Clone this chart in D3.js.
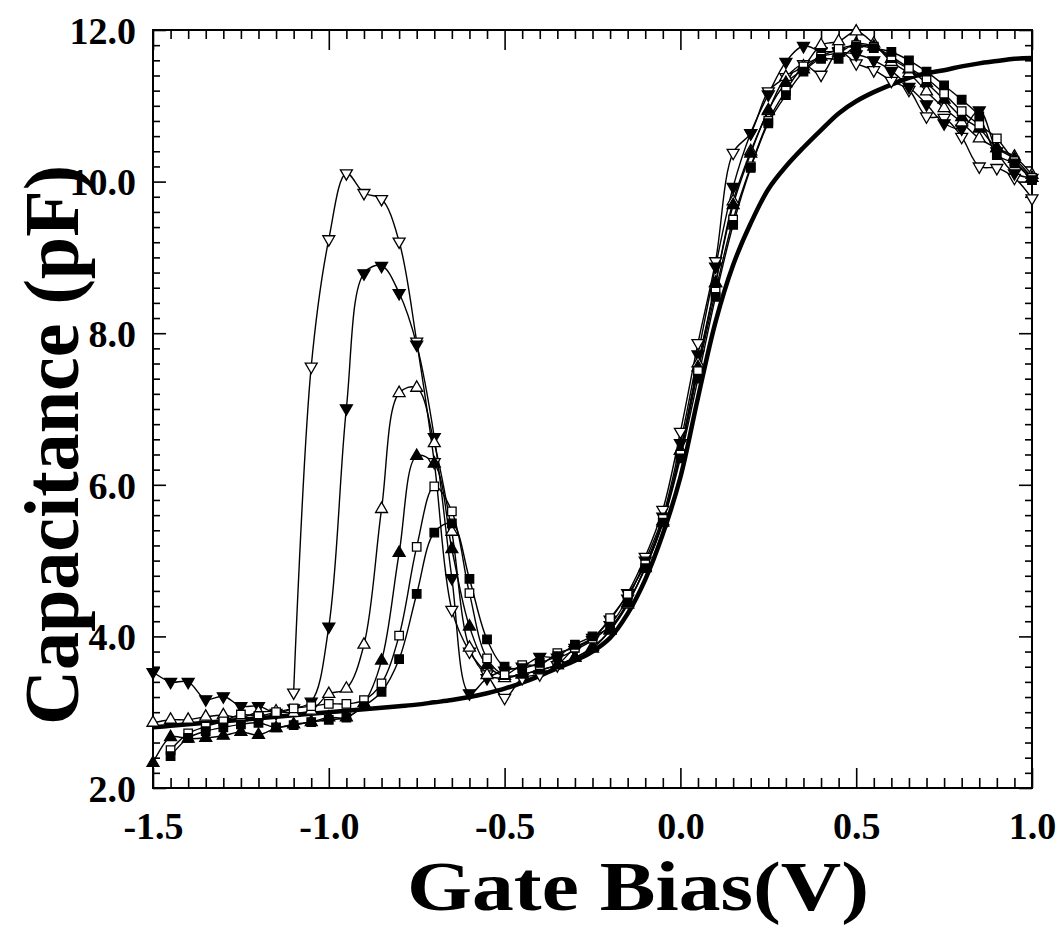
<!DOCTYPE html>
<html>
<head>
<meta charset="utf-8">
<script src="https://cdn.jsdelivr.net/npm/d3@7"></script>
<style>
  html, body { margin: 0; padding: 0; background: #fff; }
  svg { display: block; }
  text { font-family: "Liberation Serif", "Times New Roman", serif; font-weight: bold; fill: #000; }
</style>
</head>
<body>
<svg id="chart" width="1059" height="927"></svg>
<script>
// ---- data ----
const bias = [-1.5, -1.45, -1.4, -1.35, -1.3, -1.25, -1.2, -1.15, -1.1, -1.05,
  -1.0, -0.95, -0.9, -0.85, -0.8, -0.75, -0.7, -0.65, -0.6, -0.55,
  -0.5, -0.45, -0.4, -0.35, -0.3, -0.25, -0.2, -0.15, -0.1, -0.05,
  0.0, 0.05, 0.1, 0.15, 0.2, 0.25, 0.3, 0.35, 0.4, 0.45,
  0.5, 0.55, 0.6, 0.65, 0.7, 0.75, 0.8, 0.85, 0.9, 0.95, 1.0];

const openDown = [null, null, null, null, null, null, null, null, 3.26, 7.56,
  9.24, 10.11, 9.85, 9.77, 9.21, 7.89, 6.30, 4.35, 3.80, 3.50,
  3.19, 3.45, 3.50, 3.62, 3.85, 3.98, 4.22, 4.57, 5.05, 5.67,
  6.70, 7.87, 8.95, 10.38, 10.64, 11.19, 11.38, 11.55, 11.41, 11.72,
  11.56, 11.47, 11.33, 11.21, 10.86, 10.84, 10.59, 10.20, 10.18, 10.05, 9.78];

const filledDown = [3.53, 3.40, 3.40, 3.17, 3.21, 3.08, 3.08, 2.99, 3.05, 3.14,
  4.13, 7.01, 8.79, 8.89, 8.53, 7.85, 6.63, 4.77, 3.25, 3.45,
  3.55, 3.60, 3.73, 3.72, 3.82, 3.95, 4.15, 4.50, 5.00, 5.58,
  6.55, 7.72, 8.88, 9.93, 10.64, 11.15, 11.58, 11.79, 11.72, 11.71,
  11.68, 11.60, 11.46, 11.25, 11.02, 10.77, 10.70, 10.94, 10.40, 10.11, 10.05];

const openUp = [2.86, 2.90, 2.90, 2.94, 2.96, 2.93, 3.00, 3.01, 2.99, 3.02,
  3.24, 3.31, 3.89, 5.68, 7.21, 7.28, 6.55, 5.38, 3.85, 3.49,
  3.45, 3.50, 3.55, 3.62, 3.72, 3.86, 4.08, 4.42, 4.92, 5.52,
  6.45, 7.60, 8.66, 9.74, 10.40, 10.93, 11.38, 11.52, 11.80, 11.85,
  11.98, 11.82, 11.58, 11.43, 11.19, 10.97, 10.78, 10.57, 10.44, 10.33, 10.09];

const filledUp = [2.33, 2.67, 2.65, 2.66, 2.69, 2.74, 2.70, 2.79, 2.84, 2.87,
  2.93, 2.93, 3.12, 3.68, 5.10, 6.38, 6.28, 5.15, 4.13, 3.62,
  3.48, 3.50, 3.56, 3.62, 3.72, 3.84, 4.08, 4.44, 4.90, 5.50,
  6.45, 7.55, 8.66, 9.69, 10.37, 10.94, 11.30, 11.48, 11.65, 11.70,
  11.82, 11.78, 11.62, 11.48, 11.30, 11.08, 10.85, 10.70, 10.44, 10.30, 10.05];

const openSquare = [null, 2.50, 2.72, 2.81, 2.88, 2.97, 2.95, 3.00, 3.05, 3.08,
  3.11, 3.11, 3.16, 3.38, 4.01, 5.18, 5.98, 5.65, 4.57, 3.71,
  3.50, 3.62, 3.62, 3.78, 3.85, 3.97, 4.24, 4.55, 4.95, 5.55,
  6.40, 7.50, 8.55, 9.50, 10.20, 10.80, 11.20, 11.52, 11.65, 11.75,
  11.80, 11.78, 11.65, 11.50, 11.36, 11.16, 10.93, 10.75, 10.57, 10.27, 10.05];

const filledSquare = [null, 2.42, 2.66, 2.75, 2.80, 2.84, 2.86, 2.80, 2.83, 2.87,
  2.90, 2.93, 3.08, 3.27, 3.70, 4.56, 5.37, 5.49, 4.76, 3.96,
  3.60, 3.58, 3.65, 3.74, 3.89, 4.00, 4.12, 4.45, 4.90, 5.50,
  6.35, 7.40, 8.48, 9.43, 10.18, 10.77, 11.14, 11.45, 11.62, 11.62,
  11.78, 11.76, 11.71, 11.60, 11.45, 11.27, 11.08, 10.86, 10.35, 10.24, 10.02];

const reference = [2.80, 2.82, 2.84, 2.86, 2.88, 2.90, 2.92, 2.94, 2.96, 2.98,
  3.00, 3.02, 3.04, 3.06, 3.08, 3.10, 3.13, 3.16, 3.20, 3.25,
  3.31, 3.39, 3.48, 3.58, 3.68, 3.80, 3.98, 4.30, 4.75, 5.35,
  6.10, 7.15, 8.15, 8.90, 9.45, 9.90, 10.20, 10.45, 10.68, 10.90,
  11.06, 11.18, 11.28, 11.37, 11.43, 11.47, 11.52, 11.56, 11.59, 11.62, 11.63];

const xTickLabels = ["-1.5", "-1.0", "-0.5", "0.0", "0.5", "1.0"];
const yTickLabels = ["2.0", "4.0", "6.0", "8.0", "10.0", "12.0"];
const xTitle = "Gate Bias(V)";
const yTitle = "Capacitance (pF)";

// ---- layout ----
const svg = d3.select("#chart");
const L = 153, R = 1032, T = 30, B = 788;
const x = d3.scaleLinear().domain([-1.5, 1.0]).range([L, R]);
const y = d3.scaleLinear().domain([2, 12]).range([B, T]);

const xMajor = xTickLabels.map(Number);
const yMajor = yTickLabels.map(Number);
const xMinor = d3.range(0, 51).map(i => -1.5 + i * 0.05).filter(v => !xMajor.some(m => Math.abs(m - v) < 1e-6));
const yMinor = d3.range(0, 51).map(i => 2 + i * 0.2).filter(v => !yMajor.some(m => Math.abs(m - v) < 1e-6));

function styleAxis(g) {
  g.select(".domain").remove();
  g.selectAll("line").attr("stroke", "#000").attr("stroke-width", 1.6);
}

// minor ticks
svg.append("g").attr("transform", `translate(0,${B})`)
  .call(d3.axisBottom(x).tickValues(xMinor).tickSize(-10).tickFormat("")).call(styleAxis);
svg.append("g").attr("transform", `translate(0,${T})`)
  .call(d3.axisTop(x).tickValues(xMinor).tickSize(-9).tickFormat("")).call(styleAxis);
svg.append("g").attr("transform", `translate(${L},0)`)
  .call(d3.axisLeft(y).tickValues(yMinor).tickSize(-7).tickFormat("")).call(styleAxis);
svg.append("g").attr("transform", `translate(${R},0)`)
  .call(d3.axisRight(y).tickValues(yMinor).tickSize(-7).tickFormat("")).call(styleAxis);

// major ticks
const xAx = svg.append("g").attr("transform", `translate(0,${B})`)
  .call(d3.axisBottom(x).tickValues(xMajor).tickSize(-20)
    .tickFormat((d, i) => xTickLabels[i]));
xAx.call(styleAxis);
xAx.selectAll("text").attr("font-size", 38).attr("font-family", "'Liberation Serif', serif")
  .attr("font-weight", "bold").attr("dy", null).attr("y", 51);

svg.append("g").attr("transform", `translate(0,${T})`)
  .call(d3.axisTop(x).tickValues(xMajor).tickSize(-20).tickFormat("")).call(styleAxis);

const yAx = svg.append("g").attr("transform", `translate(${L},0)`)
  .call(d3.axisLeft(y).tickValues(yMajor).tickSize(-13)
    .tickFormat((d, i) => yTickLabels[i]));
yAx.call(styleAxis);
yAx.selectAll("text").attr("font-size", 38).attr("font-family", "'Liberation Serif', serif")
  .attr("font-weight", "bold").attr("x", -17).attr("dy", "0.35em");

svg.append("g").attr("transform", `translate(${R},0)`)
  .call(d3.axisRight(y).tickValues(yMajor).tickSize(-13).tickFormat("")).call(styleAxis);

// frame
svg.append("rect").attr("x", L).attr("y", T).attr("width", R - L).attr("height", B - T)
  .attr("fill", "none").attr("stroke", "#000").attr("stroke-width", 2);

// titles
svg.append("text").attr("x", 638).attr("y", 910).attr("text-anchor", "middle")
  .attr("font-size", 70).attr("textLength", 462).attr("lengthAdjust", "spacingAndGlyphs").text(xTitle);
svg.append("text").attr("transform", "translate(78,445) rotate(-90)").attr("text-anchor", "middle")
  .attr("font-size", 78).attr("textLength", 560).attr("lengthAdjust", "spacingAndGlyphs").text(yTitle);

// ---- curves ----
const line = d3.line()
  .defined(d => d.v != null)
  .x(d => x(d.b)).y(d => y(d.v))
  .curve(d3.curveCatmullRom.alpha(0.5));

const toPts = arr => bias.map((b, i) => ({ b, v: arr[i] }));

svg.append("path").attr("d", line(toPts(reference)))
  .attr("fill", "none").attr("stroke", "#000").attr("stroke-width", 4.5);

const series = [
  { data: openDown, shape: "tri", down: true, fill: "#fff" },
  { data: filledDown, shape: "tri", down: true, fill: "#000" },
  { data: openUp, shape: "tri", down: false, fill: "#fff" },
  { data: filledUp, shape: "tri", down: false, fill: "#000" },
  { data: openSquare, shape: "sq", down: false, fill: "#fff" },
  { data: filledSquare, shape: "sq", down: false, fill: "#000" }
];

series.forEach(s => {
  svg.append("path").attr("d", line(toPts(s.data)))
    .attr("fill", "none").attr("stroke", "#000").attr("stroke-width", 1.4);
});

const triSym = d3.symbol().type(d3.symbolTriangle).size(62);
const sqSym = d3.symbol().type(d3.symbolSquare).size(72);

series.forEach(s => {
  const pts = toPts(s.data).filter(d => d.v != null);
  svg.append("g").selectAll("path").data(pts).join("path")
    .attr("d", s.shape === "tri" ? triSym() : sqSym())
    .attr("transform", d => `translate(${x(d.b)},${y(d.v)})` + (s.down ? " rotate(180)" : ""))
    .attr("fill", s.fill).attr("stroke", "#000").attr("stroke-width", 1.3);
});
</script>
</body>
</html>
